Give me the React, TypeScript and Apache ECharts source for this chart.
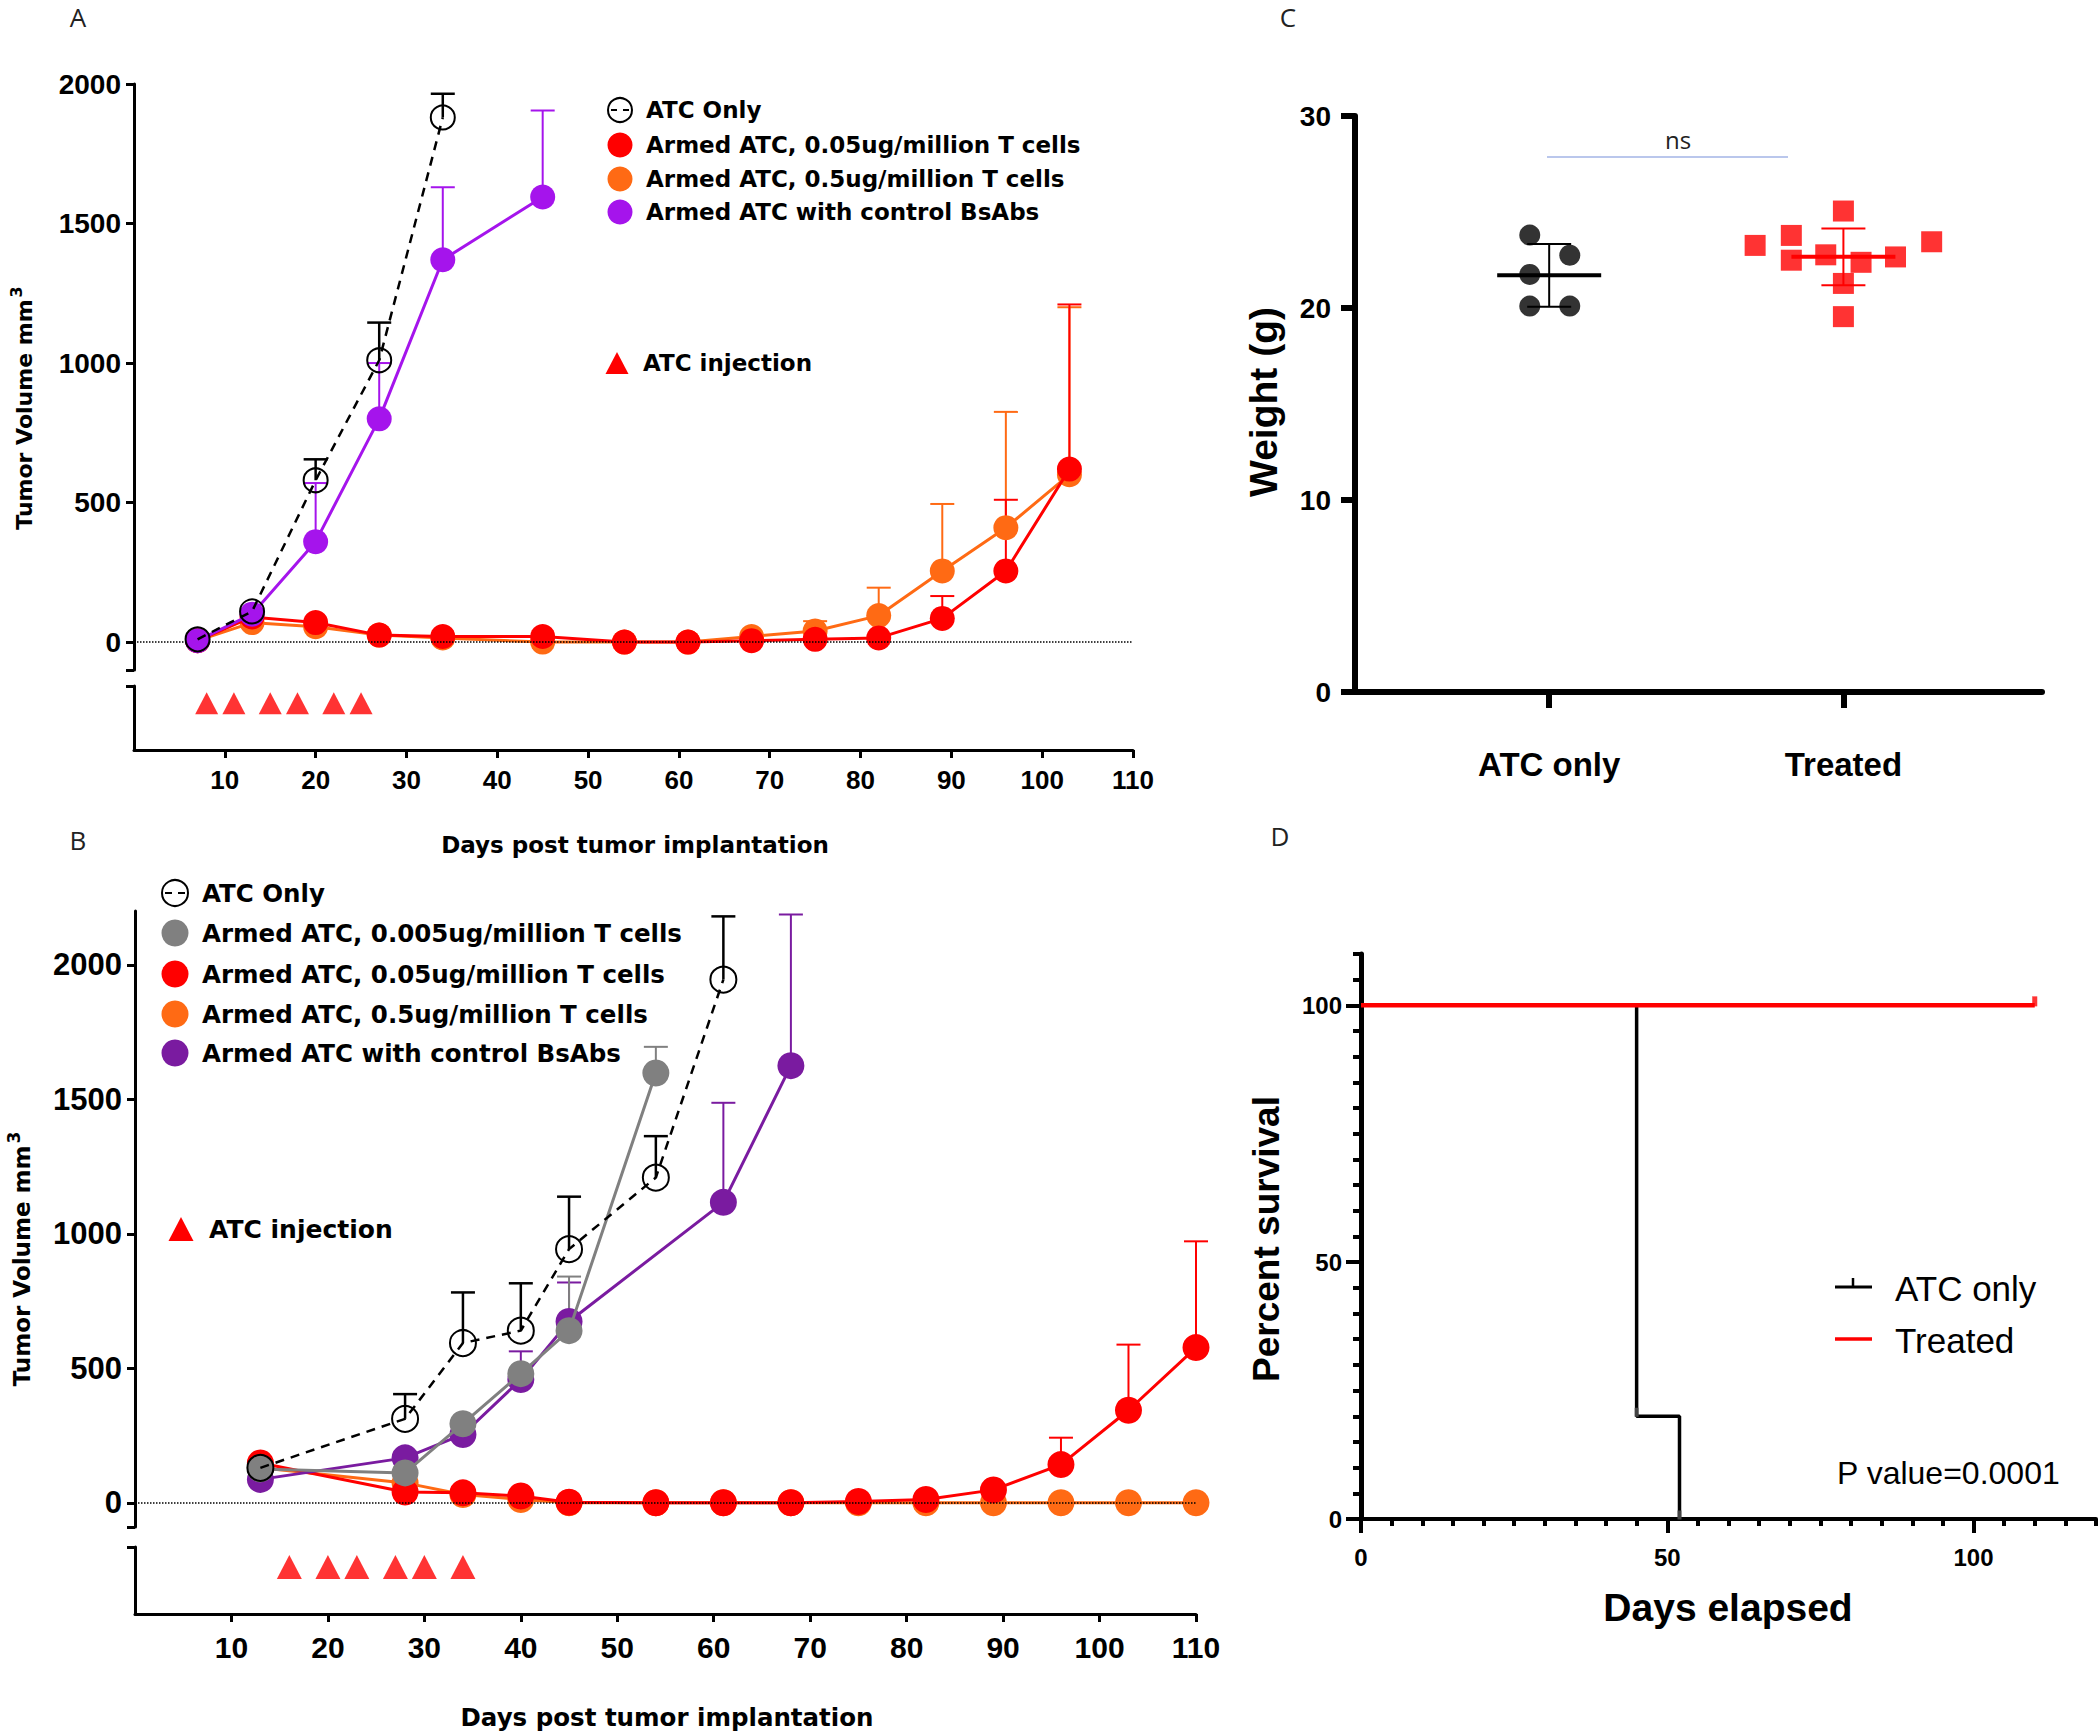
import React, { useEffect, useRef } from "react";
import * as echarts from "echarts";

// ---------------- Panel A data ----------------
const xTicksA = [10, 20, 30, 40, 50, 60, 70, 80, 90, 100, 110];
const yTicksA = [0, 500, 1000, 1500, 2000];
const daysA = [7, 13, 20, 27, 34, 45, 54, 61, 68, 75, 82, 89, 96, 103];
const atcDaysA = [7, 13, 20, 27, 34];
const atcOnlyA = [10, 110, 580, 1010, 1880];
const atcOnlyErrA = [null, null, 655, 1145, 1965];
const red05A = [5, 90, 70, 25, 20, 20, 0, 0, 5, 10, 15, 85, 255, 620];
const red05ErrA = [null, null, null, null, null, null, null, null, null, null, null, 165, 510, 1210];
const orange5A = [5, 70, 55, 25, 15, 0, 0, 0, 20, 40, 95, 255, 410, 600];
const orange5ErrA = [null, null, null, null, null, null, null, null, null, 75, 195, 495, 825, 1200];
const ctrlDaysA = [7, 13, 20, 27, 34, 45];
const ctrlA = [5, 100, 360, 800, 1370, 1595];
const ctrlErrA = [null, null, 570, 1000, 1630, 1905];
const injectionDaysA = [8, 11, 15, 18, 22, 25];

// ---------------- Panel B data ----------------
const xTicksB = [10, 20, 30, 40, 50, 60, 70, 80, 90, 100, 110];
const yTicksB = [0, 500, 1000, 1500, 2000];
const daysB = [13, 28, 34, 40, 45, 54, 61, 68, 75, 82, 89, 96, 103, 110];
const atcDaysB = [13, 28, 34, 40, 45, 54, 61];
const atcOnlyB = [130, 312, 594, 640, 943, 1209, 1945];
const atcOnlyErrB = [null, 404, 782, 816, 1138, 1363, 2180];
const grayDaysB = [13, 28, 34, 40, 45, 54];
const gray005B = [126, 111, 294, 480, 640, 1598];
const gray005ErrB = [null, null, null, null, 841, 1695];
const red05B = [148, 40, 37, 25, 2, 0, 0, 0, 5, 12, 48, 142, 344, 577];
const red05ErrB = [null, null, null, null, null, null, null, null, null, null, null, 242, 588, 972];
const orange5B = [130, 74, 31, 12, 0, 0, 0, 0, 0, 0, 0, 0, 0, 0];
const ctrlDaysB = [13, 28, 34, 40, 45, 61, 68];
const ctrlB = [87, 167, 254, 458, 674, 1117, 1625];
const ctrlErrB = [null, null, null, 563, 819, 1487, 2187];
const injectionDaysB = [16, 20, 23, 27, 30, 34];

// ---------------- Panel C data ----------------
const weightCats = ["ATC only", "Treated"];
const yTicksC = [0, 10, 20, 30];
const weightATC = [23.8, 22.75, 21.75, 20.1, 20.1];
const jitterATC = [-0.066, 0.07, -0.066, -0.066, 0.07];
const weightTreated = [23.26, 23.78, 22.49, 22.77, 25.05, 22.38, 21.28, 19.55, 22.66, 23.45];
const jitterTreated = [-0.3, -0.177, -0.177, -0.06, 0, 0.06, 0, 0, 0.177, 0.3];

// ---------------- Panel D data ----------------
const xTicksD = [0, 50, 100];
const yTicksD = [0, 50, 100];
const survDaysATC = [0, 45, 52];
const survATC = [100, 20, 0];
const survDaysTreated = [0, 110];
const survTreated = [100, 100];
const censorATC = [[45, 20], [52, 0]];
const censorTreated = [[110, 100]];

// ---------------- styles ----------------
const ARIAL = "'Liberation Sans', Arial, Helvetica, sans-serif";
const VERD = "'DejaVu Sans', Verdana, sans-serif";
const THIN = "'Open Sans', 'Noto Sans', sans-serif";
const RED = "#ff0000";
const ORANGE = "#ff6a14";
const PURPLE_A = "#a514ec";
const PURPLE_B = "#7a1ba0";
const GRAY = "#808080";
const plain = (v: number) => String(v);

function pairs(days: number[], vals: number[]) {
  return days.map((d, i) => [d, vals[i]]);
}

function errSeries(days: number[], vals: number[], errs: (number | null)[], color: string, xi: number, yi: number, lw = 2) {
  const data: number[][] = [];
  days.forEach((d, i) => {
    const e = errs[i];
    if (e != null) data.push([d, vals[i], e]);
  });
  return {
    type: "custom",
    xAxisIndex: xi,
    yAxisIndex: yi,
    silent: true,
    z: 1,
    encode: { x: 0, y: [1, 2] },
    data,
    renderItem: (_p: any, api: any) => {
      const p0 = api.coord([api.value(0), api.value(1)]);
      const p1 = api.coord([api.value(0), api.value(2)]);
      return {
        type: "group",
        children: [
          { type: "line", shape: { x1: p0[0], y1: p0[1], x2: p1[0], y2: p1[1] }, style: { stroke: color, lineWidth: lw } },
          { type: "line", shape: { x1: p1[0] - 12, y1: p1[1], x2: p1[0] + 12, y2: p1[1] }, style: { stroke: color, lineWidth: lw } },
        ],
      };
    },
  };
}

function lineSeries(name: string, days: number[], vals: number[], color: string, xi: number, yi: number, size: number, z: number, open = false) {
  return {
    type: "line",
    name,
    xAxisIndex: xi,
    yAxisIndex: yi,
    data: pairs(days, vals),
    symbol: "circle",
    symbolSize: size,
    showSymbol: true,
    z,
    lineStyle: open ? { color: "#000", width: 2.5, type: [9, 7] } : { color, width: 3 },
    itemStyle: open
      ? { color: "rgba(255,255,255,0)", borderColor: "#000", borderWidth: 2 }
      : { color, borderColor: color, borderWidth: 0 },
  };
}

function meanSd(v: number[]) {
  const m = v.reduce((a, b) => a + b, 0) / v.length;
  const sd = Math.sqrt(v.reduce((a, b) => a + (b - m) * (b - m), 0) / (v.length - 1));
  return [m, sd];
}

function summarySeries(pos: number, vals: number[], color: string) {
  const [m, sd] = meanSd(vals);
  return {
    type: "custom",
    xAxisIndex: 4,
    yAxisIndex: 4,
    silent: true,
    z: 4,
    encode: { x: 0, y: [1, 2, 3] },
    data: [[pos, m, m - sd, m + sd]],
    renderItem: (_p: any, api: any) => {
      const c = api.coord([api.value(0), api.value(1)]);
      const lo = api.coord([api.value(0), api.value(2)]);
      const hi = api.coord([api.value(0), api.value(3)]);
      return {
        type: "group",
        children: [
          { type: "line", shape: { x1: c[0] - 52, y1: c[1], x2: c[0] + 52, y2: c[1] }, style: { stroke: color, lineWidth: 4 } },
          { type: "line", shape: { x1: lo[0], y1: lo[1], x2: hi[0], y2: hi[1] }, style: { stroke: color, lineWidth: 2 } },
          { type: "line", shape: { x1: lo[0] - 22, y1: lo[1], x2: lo[0] + 22, y2: lo[1] }, style: { stroke: color, lineWidth: 2 } },
          { type: "line", shape: { x1: hi[0] - 22, y1: hi[1], x2: hi[0] + 22, y2: hi[1] }, style: { stroke: color, lineWidth: 2 } },
        ],
      };
    },
  };
}

function txt(text: string, x: number, y: number, size: number, family: string, weight: string, opts: any = {}) {
  return {
    type: "text",
    x,
    y,
    rotation: opts.rotation || 0,
    silent: true,
    style: {
      text,
      fill: opts.fill || "#000",
      fontSize: size,
      fontFamily: family,
      fontWeight: weight,
      align: opts.align || "left",
      verticalAlign: "middle",
      rich: opts.rich,
    },
  };
}

function dot(x: number, y: number, r: number, color: string) {
  return { type: "circle", shape: { cx: x, cy: y, r }, style: { fill: color }, silent: true };
}
function openDot(x: number, y: number, r: number) {
  return {
    type: "group",
    silent: true,
    children: [
      { type: "circle", shape: { cx: x, cy: y, r }, style: { fill: "#fff", stroke: "#000", lineWidth: 2 } },
      { type: "line", shape: { x1: x - r + 3, y1: y, x2: x - 3, y2: y }, style: { stroke: "#000", lineWidth: 2 } },
      { type: "line", shape: { x1: x + 3, y1: y, x2: x + r - 3, y2: y }, style: { stroke: "#000", lineWidth: 2 } },
    ],
  };
}
function tri(x: number, y: number, w: number, h: number) {
  return {
    type: "polygon",
    silent: true,
    shape: { points: [[x, y - h / 2], [x + w / 2, y + h / 2], [x - w / 2, y + h / 2]] },
    style: { fill: RED },
  };
}
function seg(x1: number, y1: number, x2: number, y2: number, color: string, w: number) {
  return { type: "line", silent: true, shape: { x1, y1, x2, y2 }, style: { stroke: color, lineWidth: w } };
}

function hiddenX(grid: number, max: number) {
  return { gridIndex: grid, type: "value", min: 0, max, show: false };
}
function breakY(grid: number, min: number, max: number, ticks: number[], fs: number) {
  return {
    gridIndex: grid,
    type: "value",
    min,
    max,
    axisLine: { show: true, onZero: false, lineStyle: { color: "#000", width: 3 } },
    axisTick: { show: true, customValues: [min, ...ticks], length: 8, lineStyle: { color: "#000", width: 3 } },
    axisLabel: { show: true, customValues: ticks, formatter: plain, fontFamily: ARIAL, fontWeight: "bold", fontSize: fs, color: "#000", margin: 13 },
    splitLine: { show: false },
  };
}
function lowerY(grid: number) {
  return {
    gridIndex: grid,
    type: "value",
    min: 0,
    max: 1,
    axisLine: { show: true, onZero: false, lineStyle: { color: "#000", width: 3 } },
    axisTick: { show: true, customValues: [1], length: 8, lineStyle: { color: "#000", width: 3 } },
    axisLabel: { show: false },
    splitLine: { show: false },
  };
}
function lowerX(grid: number, ticks: number[], fs: number, margin: number) {
  return {
    gridIndex: grid,
    type: "value",
    min: 0,
    max: 110,
    axisLine: { show: true, onZero: false, lineStyle: { color: "#000", width: 3 } },
    axisTick: { show: true, customValues: ticks, length: 8, lineStyle: { color: "#000", width: 3 } },
    axisLabel: { show: true, customValues: ticks, formatter: plain, fontFamily: ARIAL, fontWeight: "bold", fontSize: fs, color: "#000", margin },
    splitLine: { show: false },
  };
}

export default function App() {
  const ref = useRef<HTMLDivElement>(null);
  useEffect(() => {
    document.body.style.margin = "0";
    const chart = echarts.init(ref.current!, null, { renderer: "svg" });

    const grids = [
      { left: 134, top: 84, width: 999, height: 586 },
      { left: 134, top: 686, width: 999, height: 64 },
      { left: 135, top: 911, width: 1061, height: 616 },
      { left: 135, top: 1547, width: 1061, height: 67 },
      { left: 1355, top: 116, width: 687, height: 576 },
      { left: 1361, top: 954, width: 735, height: 565 },
    ].map((g) => ({ ...g, containLabel: false, outerBoundsMode: "none" }));

    const xAxis: any[] = [
      hiddenX(0, 110),
      lowerX(1, xTicksA, 26, 17),
      hiddenX(2, 110),
      lowerX(3, xTicksB, 30, 18),
      {
        gridIndex: 4,
        type: "value",
        min: 0.34,
        max: 2.675,
        axisLine: { show: true, onZero: false, lineStyle: { color: "#000", width: 6 } },
        axisTick: { show: true, customValues: [1, 2], length: 16, lineStyle: { color: "#000", width: 6 } },
        axisLabel: {
          show: true,
          customValues: [1, 2],
          formatter: (v: number) => weightCats[Math.round(v) - 1],
          fontFamily: ARIAL,
          fontWeight: "bold",
          fontSize: 33,
          color: "#000",
          margin: 56,
        },
        splitLine: { show: false },
      },
      {
        gridIndex: 5,
        type: "value",
        min: 0,
        max: 120,
        interval: 50,
        axisLine: { show: true, onZero: false, lineStyle: { color: "#000", width: 4 } },
        axisTick: { show: true, customValues: xTicksD, length: 14, lineStyle: { color: "#000", width: 4 } },
        axisLabel: { show: true, customValues: xTicksD, formatter: plain, fontFamily: ARIAL, fontWeight: "bold", fontSize: 24, color: "#000", margin: 26 },
        splitLine: { show: false },
      },
      {
        gridIndex: 5,
        type: "value",
        min: 0,
        max: 120,
        interval: 5,
        position: "bottom",
        axisLine: { show: false },
        axisTick: { show: true, length: 7, lineStyle: { color: "#000", width: 4 } },
        axisLabel: { show: false },
        splitLine: { show: false },
      },
    ];

    const yAxis: any[] = [
      breakY(0, -100, 2000, yTicksA, 28),
      lowerY(1),
      breakY(2, -90, 2200, yTicksB, 31),
      lowerY(3),
      {
        gridIndex: 4,
        type: "value",
        min: 0,
        max: 30,
        interval: 10,
        axisLine: { show: true, onZero: false, lineStyle: { color: "#000", width: 6 } },
        axisTick: { show: true, length: 14, lineStyle: { color: "#000", width: 6 } },
        axisLabel: { show: true, customValues: yTicksC, formatter: plain, fontFamily: ARIAL, fontWeight: "bold", fontSize: 28, color: "#000", margin: 24 },
        splitLine: { show: false },
      },
      {
        gridIndex: 5,
        type: "value",
        min: 0,
        max: 110,
        interval: 50,
        axisLine: { show: true, onZero: false, lineStyle: { color: "#000", width: 5 } },
        axisTick: { show: true, customValues: yTicksD, length: 15, lineStyle: { color: "#000", width: 4 } },
        axisLabel: { show: true, customValues: yTicksD, formatter: plain, fontFamily: ARIAL, fontWeight: "bold", fontSize: 24, color: "#000", margin: 19 },
        splitLine: { show: false },
      },
      {
        gridIndex: 5,
        type: "value",
        min: 0,
        max: 110,
        interval: 5,
        position: "left",
        axisLine: { show: false },
        axisTick: { show: true, length: 8, lineStyle: { color: "#000", width: 4 } },
        axisLabel: { show: false },
        splitLine: { show: false },
      },
    ];

    const zeroLine = {
      silent: true,
      symbol: "none",
      label: { show: false },
      lineStyle: { color: "#000", type: "dotted", width: 1.5 },
      data: [{ yAxis: 0 }],
    };

    const series: any[] = [
      // ---- Panel A ----
      errSeries(atcDaysA, atcOnlyA, atcOnlyErrA, "#000", 0, 0, 2.5),
      errSeries(daysA, orange5A, orange5ErrA, ORANGE, 0, 0),
      errSeries(daysA, red05A, red05ErrA, RED, 0, 0),
      errSeries(ctrlDaysA, ctrlA, ctrlErrA, PURPLE_A, 0, 0),
      { ...lineSeries("Armed ATC, 0.5ug/million T cells", daysA, orange5A, ORANGE, 0, 0, 25, 3), markLine: zeroLine },
      lineSeries("Armed ATC, 0.05ug/million T cells", daysA, red05A, RED, 0, 0, 25, 4),
      lineSeries("Armed ATC with control BsAbs", ctrlDaysA, ctrlA, PURPLE_A, 0, 0, 25, 5),
      lineSeries("ATC Only", atcDaysA, atcOnlyA, "#000", 0, 0, 24, 6, true),
      {
        type: "scatter",
        name: "ATC injection",
        xAxisIndex: 1,
        yAxisIndex: 1,
        symbol: "triangle",
        symbolSize: [23, 22],
        itemStyle: { color: RED },
        data: injectionDaysA.map((d) => [d, 0.73]),
      },
      // ---- Panel B ----
      errSeries(atcDaysB, atcOnlyB, atcOnlyErrB, "#000", 2, 2, 2.5),
      errSeries(daysB, red05B, red05ErrB, RED, 2, 2),
      errSeries(ctrlDaysB, ctrlB, ctrlErrB, PURPLE_B, 2, 2),
      errSeries(grayDaysB, gray005B, gray005ErrB, GRAY, 2, 2),
      { ...lineSeries("Armed ATC, 0.5ug/million T cells ", daysB, orange5B, ORANGE, 2, 2, 27, 3), markLine: zeroLine },
      lineSeries("Armed ATC, 0.05ug/million T cells ", daysB, red05B, RED, 2, 2, 27, 4),
      lineSeries("Armed ATC with control BsAbs ", ctrlDaysB, ctrlB, PURPLE_B, 2, 2, 27, 5),
      lineSeries("Armed ATC, 0.005ug/million T cells", grayDaysB, gray005B, GRAY, 2, 2, 27, 6),
      lineSeries("ATC Only ", atcDaysB, atcOnlyB, "#000", 2, 2, 26, 7, true),
      {
        type: "scatter",
        name: "ATC injection ",
        xAxisIndex: 3,
        yAxisIndex: 3,
        symbol: "triangle",
        symbolSize: [25, 24],
        itemStyle: { color: RED },
        data: injectionDaysB.map((d) => [d, 0.7]),
      },
      // ---- Panel C ----
      {
        type: "scatter",
        name: "ATC only",
        xAxisIndex: 4,
        yAxisIndex: 4,
        symbol: "circle",
        symbolSize: 21,
        itemStyle: { color: "#000" },
        z: 3,
        data: weightATC.map((v, i) => [1 + jitterATC[i], v]),
      },
      {
        type: "scatter",
        name: "Treated",
        xAxisIndex: 4,
        yAxisIndex: 4,
        symbol: "rect",
        symbolSize: 21,
        itemStyle: { color: RED },
        z: 3,
        data: weightTreated.map((v, i) => [2 + jitterTreated[i], v]),
      },
      summarySeries(1, weightATC, "#000"),
      summarySeries(2, weightTreated, RED),
      // ---- Panel D ----
      {
        type: "line",
        name: "ATC only ",
        xAxisIndex: 5,
        yAxisIndex: 5,
        step: "end",
        symbol: "none",
        showSymbol: false,
        z: 3,
        lineStyle: { color: "#000", width: 3.5 },
        data: pairs(survDaysATC, survATC),
      },
      {
        type: "line",
        name: "Treated ",
        xAxisIndex: 5,
        yAxisIndex: 5,
        step: "end",
        symbol: "none",
        showSymbol: false,
        z: 4,
        lineStyle: { color: RED, width: 4.5 },
        data: pairs(survDaysTreated, survTreated),
      },
      {
        type: "scatter",
        xAxisIndex: 5,
        yAxisIndex: 5,
        symbol: "rect",
        symbolSize: [4, 9],
        symbolOffset: [0, -4],
        itemStyle: { color: "#555" },
        z: 5,
        data: censorATC,
      },
      {
        type: "scatter",
        xAxisIndex: 5,
        yAxisIndex: 5,
        symbol: "rect",
        symbolSize: [5, 10],
        symbolOffset: [0, -4],
        itemStyle: { color: RED },
        z: 5,
        data: censorTreated,
      },
    ];

    const supRich = (fs: number) => ({
      n: { fontSize: fs, fontFamily: VERD, fontWeight: "bold", fill: "#000" },
      s: { fontSize: Math.round(fs * 0.72), fontFamily: VERD, fontWeight: "bold", fill: "#000", padding: [0, 0, 16, 2] },
    });

    const graphic: any[] = [
      // panel letters
      txt("A", 78, 17, 26, THIN, "normal", { align: "center", fill: "#222" }),
      txt("B", 78, 840, 26, THIN, "normal", { align: "center", fill: "#222" }),
      txt("C", 1288, 17, 26, THIN, "normal", { align: "center", fill: "#222" }),
      txt("D", 1280, 836, 26, THIN, "normal", { align: "center", fill: "#222" }),
      // Panel A titles
      txt("{n|Tumor Volume mm}{s|3}", 24, 408, 22, VERD, "bold", { align: "center", rotation: Math.PI / 2, rich: supRich(22) }),
      txt("Days post tumor implantation", 635, 845, 23, VERD, "bold", { align: "center" }),
      // Panel A legend
      openDot(620, 110, 12),
      txt("ATC Only", 646, 110, 23, VERD, "bold"),
      dot(620, 145, 12.5, RED),
      txt("Armed ATC, 0.05ug/million T cells", 646, 145, 23, VERD, "bold"),
      dot(620, 179, 12.5, ORANGE),
      txt("Armed ATC, 0.5ug/million T cells", 646, 179, 23, VERD, "bold"),
      dot(620, 212, 12.5, PURPLE_A),
      txt("Armed ATC with control BsAbs", 646, 212, 23, VERD, "bold"),
      tri(617, 363, 23, 22),
      txt("ATC injection", 643, 363, 23, VERD, "bold"),
      // Panel B titles
      txt("{n|Tumor Volume mm}{s|3}", 22, 1259, 23, VERD, "bold", { align: "center", rotation: Math.PI / 2, rich: supRich(23) }),
      txt("Days post tumor implantation", 667, 1717, 24.5, VERD, "bold", { align: "center" }),
      // Panel B legend
      openDot(175, 893, 13),
      txt("ATC Only", 202, 893, 24.5, VERD, "bold"),
      dot(175, 933, 13.5, GRAY),
      txt("Armed ATC, 0.005ug/million T cells", 202, 933, 24.5, VERD, "bold"),
      dot(175, 974, 13.5, RED),
      txt("Armed ATC, 0.05ug/million T cells", 202, 974, 24.5, VERD, "bold"),
      dot(175, 1014, 13.5, ORANGE),
      txt("Armed ATC, 0.5ug/million T cells", 202, 1014, 24.5, VERD, "bold"),
      dot(175, 1053, 13.5, PURPLE_B),
      txt("Armed ATC with control BsAbs", 202, 1053, 24.5, VERD, "bold"),
      tri(181, 1229, 25, 24),
      txt("ATC injection", 209, 1229, 25, VERD, "bold"),
      // Panel C
      txt("Weight (g)", 1263, 402, 39, ARIAL, "bold", { align: "center", rotation: Math.PI / 2 }),
      seg(1547, 157, 1788, 157, "#a3b4e6", 1.5),
      txt("ns", 1678, 139, 24, THIN, "normal", { align: "center", fill: "#222" }),
      // Panel D
      txt("Percent survival", 1266, 1239, 37, ARIAL, "bold", { align: "center", rotation: Math.PI / 2 }),
      txt("Days elapsed", 1728, 1607, 39, ARIAL, "bold", { align: "center" }),
      seg(1835, 1287, 1872, 1287, "#000", 3),
      seg(1853, 1287, 1853, 1278, "#000", 2.5),
      txt("ATC only", 1895, 1288, 35, ARIAL, "normal"),
      seg(1835, 1339, 1872, 1339, RED, 3.5),
      txt("Treated", 1895, 1340, 35, ARIAL, "normal"),
      txt("P value=0.0001", 1837, 1473, 32, ARIAL, "normal"),
    ];

    chart.setOption({
      animation: false,
      backgroundColor: "#fff",
      grid: grids,
      xAxis,
      yAxis,
      series,
      graphic,
    });
    return () => chart.dispose();
  }, []);
  return <div ref={ref} style={{ width: 2100, height: 1735, position: "absolute", left: 0, top: 0 }} />;
}
